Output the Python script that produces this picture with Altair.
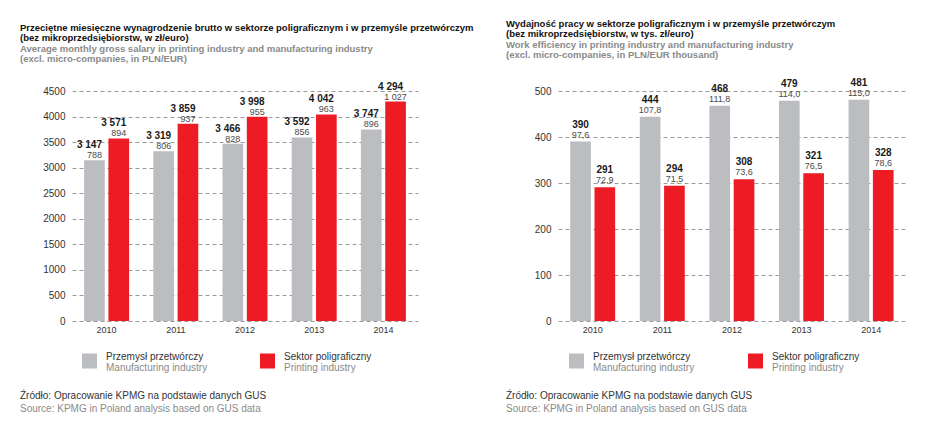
import altair as alt
import pandas as pd

FONT = "Liberation Sans, Arial, sans-serif"

years = ["2010", "2011", "2012", "2013", "2014"]
series = ["Przemysł przetwórczy", "Sektor poligraficzny"]
series_en = ["Manufacturing industry", "Printing industry"]
colors = ["#BCBDC0", "#ED1C24"]

# Salary (PLN / EUR)
sal_mfg_pln = [3147, 3319, 3466, 3592, 3747]
sal_mfg_eur = [788, 806, 828, 856, 896]
sal_prn_pln = [3571, 3859, 3998, 4042, 4294]
sal_prn_eur = [894, 937, 955, 963, 1027]
sal_ticks = [0, 500, 1000, 1500, 2000, 2500, 3000, 3500, 4000, 4500]

# Work efficiency (thousand PLN / EUR)
eff_mfg_pln = [390, 444, 468, 479, 481]
eff_mfg_eur = [97.6, 107.8, 111.8, 114.0, 115.0]
eff_prn_pln = [291, 294, 308, 321, 328]
eff_prn_eur = [72.9, 71.5, 73.6, 76.5, 78.6]
eff_ticks = [0, 100, 200, 300, 400, 500]

left_title = ["Przeciętne miesięczne wynagrodzenie brutto w sektorze poligraficznym i w przemyśle przetwórczym",
              "(bez mikroprzedsiębiorstw, w zł/euro)"]
left_sub = ["Average monthly gross salary in printing industry and manufacturing industry",
            "(excl. micro-companies, in PLN/EUR)"]
right_title = ["Wydajność pracy w sektorze poligraficznym i w przemyśle przetwórczym",
               "(bez mikroprzedsiębiorstw, w tys. zł/euro)"]
right_sub = ["Work efficiency in printing industry and manufacturing industry",
             "(excl. micro-companies, in PLN/EUR thousand)"]
src_pl = "Źródło: Opracowanie KPMG na podstawie danych GUS"
src_en = "Source: KPMG in Poland analysis based on GUS data"

H = 230


def fmt_int(v):
    return f"{v:,}".replace(",", " ")


def fmt_dec(v):
    return f"{v:.1f}".replace(".", ",")


def build_df(mfg, mfg_e, prn, prn_e, small_fmt):
    rows = []
    for i, y in enumerate(years):
        rows.append(dict(year=y, series=series[0], value=mfg[i], big=fmt_int(mfg[i]), small=small_fmt(mfg_e[i])))
        rows.append(dict(year=y, series=series[1], value=prn[i], big=fmt_int(prn[i]), small=small_fmt(prn_e[i])))
    return pd.DataFrame(rows)


def panel(df, ymax, ticks, W, title, sub, big_dx, big_dy, small_dy, leg_x):
    base = alt.Chart(df).encode(
        x=alt.X("year:N", title=None,
                scale=alt.Scale(domain=years, paddingInner=0.35, paddingOuter=0.175),
                axis=alt.Axis(labelAngle=0, ticks=False, domain=False, labelFont=FONT,
                              labelFontSize=9, labelColor="#333", labelPadding=4)),
        xOffset=alt.XOffset("series:N", scale=alt.Scale(domain=series, paddingInner=0.15)),
        y=alt.Y("value:Q", title=None,
                scale=alt.Scale(domain=[0, ymax], nice=False),
                axis=alt.Axis(values=ticks, format="d", ticks=False, domain=False, labelFont=FONT,
                              labelFontSize=10, labelColor="#333", labelPadding=7,
                              grid=True, gridColor="#9A9A9A", gridDash=[4, 3], gridWidth=1)),
    )
    bars = base.mark_bar().encode(
        color=alt.Color("series:N", scale=alt.Scale(domain=series, range=colors), legend=None)
    )
    big = base.mark_text(font=FONT, fontSize=10, fontWeight="bold", color="#1a1a1a",
                         baseline="alphabetic", dx=big_dx, dy=big_dy).encode(text="big:N")
    small = base.mark_text(font=FONT, fontSize=9, color="#4a4a4a",
                           baseline="alphabetic", dy=small_dy).encode(text="small:N")

    layers = [bars, big, small]
    for i in range(2):
        x0 = leg_x[i]
        sq = alt.Chart(pd.DataFrame({"s": [series[i]]})).mark_square(size=225, opacity=1).encode(
            x=alt.value(x0 + 7.5), y=alt.value(H + 40), color=alt.value(colors[i]))
        t1 = alt.Chart(pd.DataFrame({"t": [series[i]]})).mark_text(
            font=FONT, fontSize=10, color="#333", align="left", baseline="alphabetic").encode(
            x=alt.value(x0 + 24), y=alt.value(H + 39), text="t:N")
        t2 = alt.Chart(pd.DataFrame({"t": [series_en[i]]})).mark_text(
            font=FONT, fontSize=10, color="#8a8a8a", align="left", baseline="alphabetic").encode(
            x=alt.value(x0 + 24), y=alt.value(H + 50), text="t:N")
        layers += [sq, t1, t2]
    s1 = alt.Chart(pd.DataFrame({"t": [src_pl]})).mark_text(
        font=FONT, fontSize=10, color="#333", align="left", baseline="alphabetic").encode(
        x=alt.value(-52), y=alt.value(H + 78), text="t:N")
    s2 = alt.Chart(pd.DataFrame({"t": [src_en]})).mark_text(
        font=FONT, fontSize=10, color="#8a8a8a", align="left", baseline="alphabetic").encode(
        x=alt.value(-52), y=alt.value(H + 91), text="t:N")
    layers += [s1, s2]

    return alt.layer(*layers).properties(
        width=W, height=H,
        title=alt.TitleParams(text=title, subtitle=sub, anchor="start", font=FONT, fontSize=9.5,
                              fontWeight="bold", color="#111", subtitleFont=FONT, subtitleFontSize=9.5,
                              subtitleFontWeight="bold", subtitleColor="#8a8a8a",
                              lineHeight=10.5, subtitleLineHeight=10.5, subtitlePadding=1, offset=18),
    )


df_left = build_df(sal_mfg_pln, sal_mfg_eur, sal_prn_pln, sal_prn_eur, fmt_int)
df_right = build_df(eff_mfg_pln, eff_mfg_eur, eff_prn_pln, eff_prn_eur, fmt_dec)

left = panel(df_left, 4500, sal_ticks, 346, left_title, left_sub, -5, -12, -2, [10, 188])
right = panel(df_right, 500, eff_ticks, 348, right_title, right_sub, 0, -14, -4, [11, 190])

chart = alt.hconcat(left, right, spacing=32).properties(
    padding={"left": 12, "top": 10, "right": 5, "bottom": 5}
).configure_view(stroke=None)

chart.save("out.html", embed_options={"renderer": "svg", "actions": False})
